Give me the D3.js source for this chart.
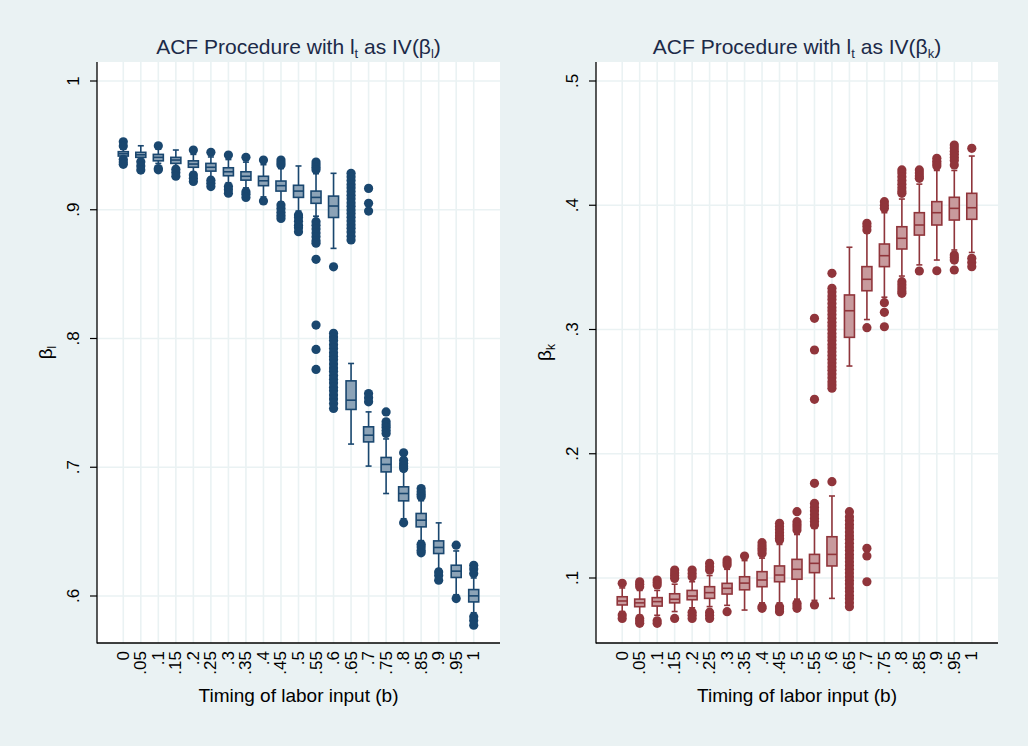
<!DOCTYPE html>
<html>
<head>
<meta charset="utf-8">
<script src="https://cdn.jsdelivr.net/npm/d3@7"></script>
<style>
  body { margin: 0; background: #eaf2f3; }
  svg { display: block; font-family: "Liberation Sans", Arial, sans-serif; }
</style>
</head>
<body>
<svg id="chart" width="1028" height="746"></svg>
<script>
// timing of labor input, one box per value
var cats = ["0", ".05", ".1", ".15", ".2", ".25", ".3", ".35", ".4", ".45", ".5",
            ".55", ".6", ".65", ".7", ".75", ".8", ".85", ".9", ".95", "1"];

// left panel: beta_l
var medL = [0.9435, 0.9427, 0.9407, 0.9386, 0.9355, 0.933, 0.9295, 0.926, 0.9225, 0.9187, 0.9145,
            0.9096, 0.9029, 0.7521, 0.7249, 0.7022, 0.6796, 0.6589, 0.6377, 0.6193, 0.6001];
var q1L  = [0.9417, 0.9407, 0.938, 0.936, 0.933, 0.930, 0.9264, 0.923, 0.9187, 0.9145, 0.9096,
            0.905, 0.894, 0.7449, 0.7197, 0.6964, 0.6739, 0.6537, 0.633, 0.6144, 0.5954];
var q3L  = [0.9451, 0.9446, 0.943, 0.9407, 0.938, 0.936, 0.9326, 0.9295, 0.926, 0.9223, 0.919,
            0.9145, 0.9106, 0.7671, 0.7314, 0.7076, 0.6848, 0.6641, 0.6428, 0.6239, 0.605];
var loL  = [0.940, 0.939, 0.936, 0.933, 0.929, 0.925, 0.921, 0.917, 0.910, 0.906, 0.899,
            0.895, 0.870, 0.718, 0.7009, 0.6796, 0.660, 0.643, 0.621, 0.601, 0.587];
var hiL  = [0.947, 0.9497, 0.947, 0.9464, 0.943, 0.941, 0.939, 0.937, 0.935, 0.932, 0.934,
            0.928, 0.9283, 0.7806, 0.743, 0.722, 0.697, 0.674, 0.6568, 0.635, 0.614];
var outL = [
  [0.9528, 0.9495, 0.9392, 0.9370, 0.9353],
  [0.9373, 0.9340, 0.9308],
  [0.9497, 0.932, 0.931],
  [0.9315, 0.929, 0.926],
  [0.9464, 0.927, 0.9245, 0.922],
  [0.9446, 0.923, 0.9205, 0.918],
  [0.9425, 0.918, 0.9155, 0.9128],
  [0.9407, 0.914, 0.912, 0.9096],
  [0.9386, 0.9068],
  [0.9386, 0.9365, 0.9347, 0.9037, 0.901, 0.898, 0.8955, 0.8933],
  [0.896, 0.894, 0.891, 0.888, 0.886, 0.883],
  [0.937, 0.935, 0.933, 0.931, 0.8907, 0.888, 0.885, 0.882, 0.879, 0.876, 0.874, 0.8615,
   0.8104, 0.7915, 0.776],
  [0.8557, 0.804, 0.8012, 0.7985, 0.7951, 0.7923, 0.7890, 0.7862, 0.7834, 0.7801, 0.7770,
   0.7745, 0.7712, 0.7683, 0.7655, 0.7621, 0.7594, 0.7562, 0.7531, 0.7496, 0.7457],
  [0.9283, 0.9256, 0.9228, 0.9197, 0.9170, 0.9141, 0.9112, 0.9085, 0.9054, 0.9027, 0.8998,
   0.8970, 0.8941, 0.8913, 0.8884, 0.8856, 0.8827, 0.8795, 0.8765],
  [0.9166, 0.905, 0.899, 0.7573, 0.754, 0.7508],
  [0.743, 0.7353, 0.733, 0.731, 0.7285, 0.7263],
  [0.7112, 0.7055, 0.703, 0.701, 0.699, 0.6568],
  [0.6835, 0.681, 0.679, 0.677, 0.6402, 0.638, 0.6355, 0.6335],
  [0.6187, 0.616, 0.6123],
  [0.6395, 0.598],
  [0.6239, 0.621, 0.6175, 0.5838, 0.581, 0.5773]
];

// right panel: beta_k
var medK = [0.0815, 0.080, 0.081, 0.0829, 0.0855, 0.0882, 0.0917, 0.0959, 0.0984, 0.1024, 0.107,
            0.1118, 0.119, 0.3151, 0.3404, 0.3594, 0.3734, 0.3841, 0.394, 0.3975, 0.398];
var q1K  = [0.0783, 0.0769, 0.0774, 0.080, 0.0825, 0.0836, 0.0871, 0.0905, 0.093, 0.097, 0.099,
            0.1043, 0.1097, 0.2937, 0.3312, 0.3506, 0.3648, 0.376, 0.3841, 0.3881, 0.3887];
var q3K  = [0.0849, 0.083, 0.0842, 0.0873, 0.090, 0.093, 0.0957, 0.101, 0.1051, 0.1097, 0.115,
            0.119, 0.1332, 0.3278, 0.3506, 0.3688, 0.3827, 0.394, 0.4029, 0.4064, 0.4096];
var loK  = [0.073, 0.070, 0.070, 0.073, 0.076, 0.077, 0.078, 0.0742, 0.080, 0.080, 0.083,
            0.082, 0.0836, 0.2706, 0.308, 0.326, 0.343, 0.352, 0.3559, 0.364, 0.362];
var hiK  = [0.092, 0.090, 0.090, 0.095, 0.097, 0.102, 0.107, 0.114, 0.116, 0.127, 0.135,
            0.14, 0.166, 0.3662, 0.378, 0.394, 0.405, 0.417, 0.428, 0.428, 0.4396];
var outK = [
  [0.0957, 0.0702, 0.0675],
  [0.097, 0.095, 0.093, 0.0675, 0.0655, 0.0635],
  [0.0984, 0.0964, 0.0944, 0.0655, 0.0635],
  [0.1064, 0.104, 0.102, 0.0997, 0.0675],
  [0.1064, 0.1037, 0.101, 0.0725, 0.070, 0.0675],
  [0.1118, 0.109, 0.1064, 0.0725, 0.070, 0.0675],
  [0.1145, 0.1125, 0.1105, 0.0729],
  [0.1177],
  [0.1284, 0.126, 0.124, 0.122, 0.1198, 0.0769, 0.0756],
  [0.144, 0.1415, 0.139, 0.1365, 0.134, 0.132, 0.1306, 0.0769, 0.075, 0.0729],
  [0.1534, 0.1453, 0.143, 0.141, 0.1386, 0.0796, 0.0776, 0.0756],
  [0.1762, 0.160, 0.157, 0.154, 0.151, 0.148, 0.1455, 0.1427, 0.0783, 0.309, 0.2835, 0.2438],
  [0.1775, 0.3452, 0.3331, 0.3302, 0.3270, 0.3241, 0.3210, 0.3178, 0.3150, 0.3121, 0.3090,
   0.3058, 0.3030, 0.2999, 0.2968, 0.2940, 0.2911, 0.2880, 0.2851, 0.2820, 0.2791, 0.2760,
   0.2730, 0.2701, 0.2672, 0.2641, 0.2612, 0.2580, 0.2553, 0.2527],
  [0.1534, 0.1493, 0.1462, 0.1431, 0.1402, 0.1371, 0.1340, 0.1311, 0.1280, 0.1250, 0.1221,
   0.1190, 0.1160, 0.1131, 0.1100, 0.1071, 0.1040, 0.1011, 0.0980, 0.0951, 0.0920, 0.0891,
   0.0860, 0.0832, 0.0801, 0.0769],
  [0.3855, 0.383, 0.3801, 0.3015, 0.1239, 0.1177, 0.097],
  [0.4029, 0.400, 0.3975, 0.3216, 0.3138, 0.3022],
  [0.4284, 0.426, 0.423, 0.420, 0.417, 0.414, 0.4115, 0.4096, 0.3385, 0.336, 0.3335, 0.331, 0.3291],
  [0.4284, 0.426, 0.4235, 0.4217, 0.3471],
  [0.4378, 0.4355, 0.4335, 0.4316, 0.3473],
  [0.4485, 0.446, 0.4435, 0.441, 0.4385, 0.436, 0.4324, 0.36, 0.358, 0.3559, 0.3479],
  [0.4458, 0.3573, 0.354, 0.3506]
];

var yTicksL = [0.6, 0.7, 0.8, 0.9, 1];
var yLabelsL = [".6", ".7", ".8", ".9", "1"];
var yTicksK = [0.1, 0.2, 0.3, 0.4, 0.5];
var yLabelsK = [".1", ".2", ".3", ".4", ".5"];

var svg = d3.select("#chart");
var plotTop = 62, plotBottom = 643;
var gridColor = "#eaf2f3";
var titleColor = "#1c2a48";

svg.append("rect").attr("width", 1028).attr("height", 746).attr("fill", "#eaf2f3");

function drawPanel(opt) {
    var x = d3.scalePoint().domain(cats).range([opt.left, opt.right]).padding(1.5);
    var y = d3.scaleLinear().domain(opt.yDomain).range(opt.yRange);
    var g = svg.append("g");

    var boxes = cats.map(function (c, i) {
        return {cat: c, med: opt.med[i], q1: opt.q1[i], q3: opt.q3[i],
                lo: opt.lo[i], hi: opt.hi[i], out: opt.out[i]};
    });

    g.append("rect")
        .attr("x", opt.left).attr("y", plotTop)
        .attr("width", opt.right - opt.left).attr("height", plotBottom - plotTop)
        .attr("fill", "#fff");

    // grid
    g.selectAll(".vgrid").data(cats).enter().append("line")
        .attr("x1", function (d) { return x(d); }).attr("x2", function (d) { return x(d); })
        .attr("y1", plotTop).attr("y2", plotBottom)
        .attr("stroke", gridColor).attr("stroke-width", 1.6);
    g.selectAll(".hgrid").data(opt.yTicks).enter().append("line")
        .attr("x1", opt.left).attr("x2", opt.right)
        .attr("y1", function (d) { return y(d); }).attr("y2", function (d) { return y(d); })
        .attr("stroke", gridColor).attr("stroke-width", 1.6);

    // axes
    g.append("line").attr("x1", opt.left).attr("x2", opt.left).attr("y1", plotTop).attr("y2", plotBottom + 0.5)
        .attr("stroke", "#000").attr("stroke-width", 1.3);
    g.append("line").attr("x1", opt.left).attr("x2", opt.right).attr("y1", plotBottom).attr("y2", plotBottom)
        .attr("stroke", "#000").attr("stroke-width", 1.3);
    g.selectAll(".ytick").data(opt.yTicks).enter().append("line")
        .attr("x1", opt.left - 7).attr("x2", opt.left)
        .attr("y1", function (d) { return y(d); }).attr("y2", function (d) { return y(d); })
        .attr("stroke", "#000").attr("stroke-width", 1.2);
    g.selectAll(".ylab").data(opt.yTicks).enter().append("text")
        .attr("transform", function (d) { return "translate(" + (opt.left - 18) + "," + y(d) + ") rotate(-90)"; })
        .attr("text-anchor", "middle").attr("font-size", 17).attr("fill", "#000")
        .text(function (d, i) { return opt.yLabels[i]; });
    g.selectAll(".xlab").data(cats).enter().append("text")
        .attr("transform", function (d) { return "translate(" + (x(d) + 5.5) + "," + (plotBottom + 8) + ") rotate(-90)"; })
        .attr("text-anchor", "end").attr("font-size", 17).attr("fill", "#000")
        .text(function (d) { return d; });

    var cx = (opt.left + opt.right) / 2;
    g.append("text").attr("x", cx).attr("y", 702)
        .attr("text-anchor", "middle").attr("font-size", 19).attr("fill", "#000")
        .text("Timing of labor input (b)");

    var yt = g.append("text")
        .attr("transform", "translate(" + (opt.left - 45) + "," + ((plotTop + plotBottom) / 2) + ") rotate(-90)")
        .attr("text-anchor", "middle").attr("font-size", 19).attr("fill", "#000");
    yt.append("tspan").text("β");
    yt.append("tspan").attr("font-size", 12).attr("dy", 4).text(opt.sub);

    var tt = g.append("text").attr("x", cx).attr("y", 54)
        .attr("text-anchor", "middle").attr("font-size", 21).attr("fill", titleColor);
    tt.append("tspan").text("ACF Procedure with l");
    tt.append("tspan").attr("font-size", 13).attr("dy", 4).text("t");
    tt.append("tspan").attr("dy", -4).text(" as IV(β");
    tt.append("tspan").attr("font-size", 13).attr("dy", 4).text(opt.sub);
    tt.append("tspan").attr("dy", -4).text(")");

    // boxes
    var bw = 10, cw = 6;
    var b = g.selectAll(".box").data(boxes).enter().append("g");
    b.append("line")
        .attr("x1", function (d) { return x(d.cat); }).attr("x2", function (d) { return x(d.cat); })
        .attr("y1", function (d) { return y(d.hi); }).attr("y2", function (d) { return y(d.lo); })
        .attr("stroke", opt.color).attr("stroke-width", 1.6);
    b.selectAll(".cap").data(function (d) { return [[d.cat, d.hi], [d.cat, d.lo]]; }).enter().append("line")
        .attr("x1", function (d) { return x(d[0]) - cw / 2; }).attr("x2", function (d) { return x(d[0]) + cw / 2; })
        .attr("y1", function (d) { return y(d[1]); }).attr("y2", function (d) { return y(d[1]); })
        .attr("stroke", opt.color).attr("stroke-width", 1.6);
    b.append("rect")
        .attr("x", function (d) { return x(d.cat) - bw / 2; })
        .attr("y", function (d) { return y(d.q3); })
        .attr("width", bw)
        .attr("height", function (d) { return y(d.q1) - y(d.q3); })
        .attr("fill", opt.fill).attr("stroke", opt.color).attr("stroke-width", 1.6);
    b.append("line")
        .attr("x1", function (d) { return x(d.cat) - bw / 2; }).attr("x2", function (d) { return x(d.cat) + bw / 2; })
        .attr("y1", function (d) { return y(d.med); }).attr("y2", function (d) { return y(d.med); })
        .attr("stroke", opt.color).attr("stroke-width", 1.6);
    b.selectAll(".pt").data(function (d) { return d.out.map(function (v) { return [d.cat, v]; }); })
        .enter().append("circle")
        .attr("cx", function (d) { return x(d[0]); })
        .attr("cy", function (d) { return y(d[1]); })
        .attr("r", 4.6)
        .attr("fill", opt.color);
}

drawPanel({left: 97, right: 500, yDomain: [0.6, 1], yRange: [596, 81],
           yTicks: yTicksL, yLabels: yLabelsL, sub: "l",
           med: medL, q1: q1L, q3: q3L, lo: loL, hi: hiL, out: outL,
           color: "#1a476f", fill: "#8ca3b7"});
drawPanel({left: 596, right: 998, yDomain: [0.1, 0.5], yRange: [578, 81],
           yTicks: yTicksK, yLabels: yLabelsK, sub: "k",
           med: medK, q1: q1K, q3: q3K, lo: loK, hi: hiK, out: outK,
           color: "#90353b", fill: "#c89a9d"});
</script>
</body>
</html>
